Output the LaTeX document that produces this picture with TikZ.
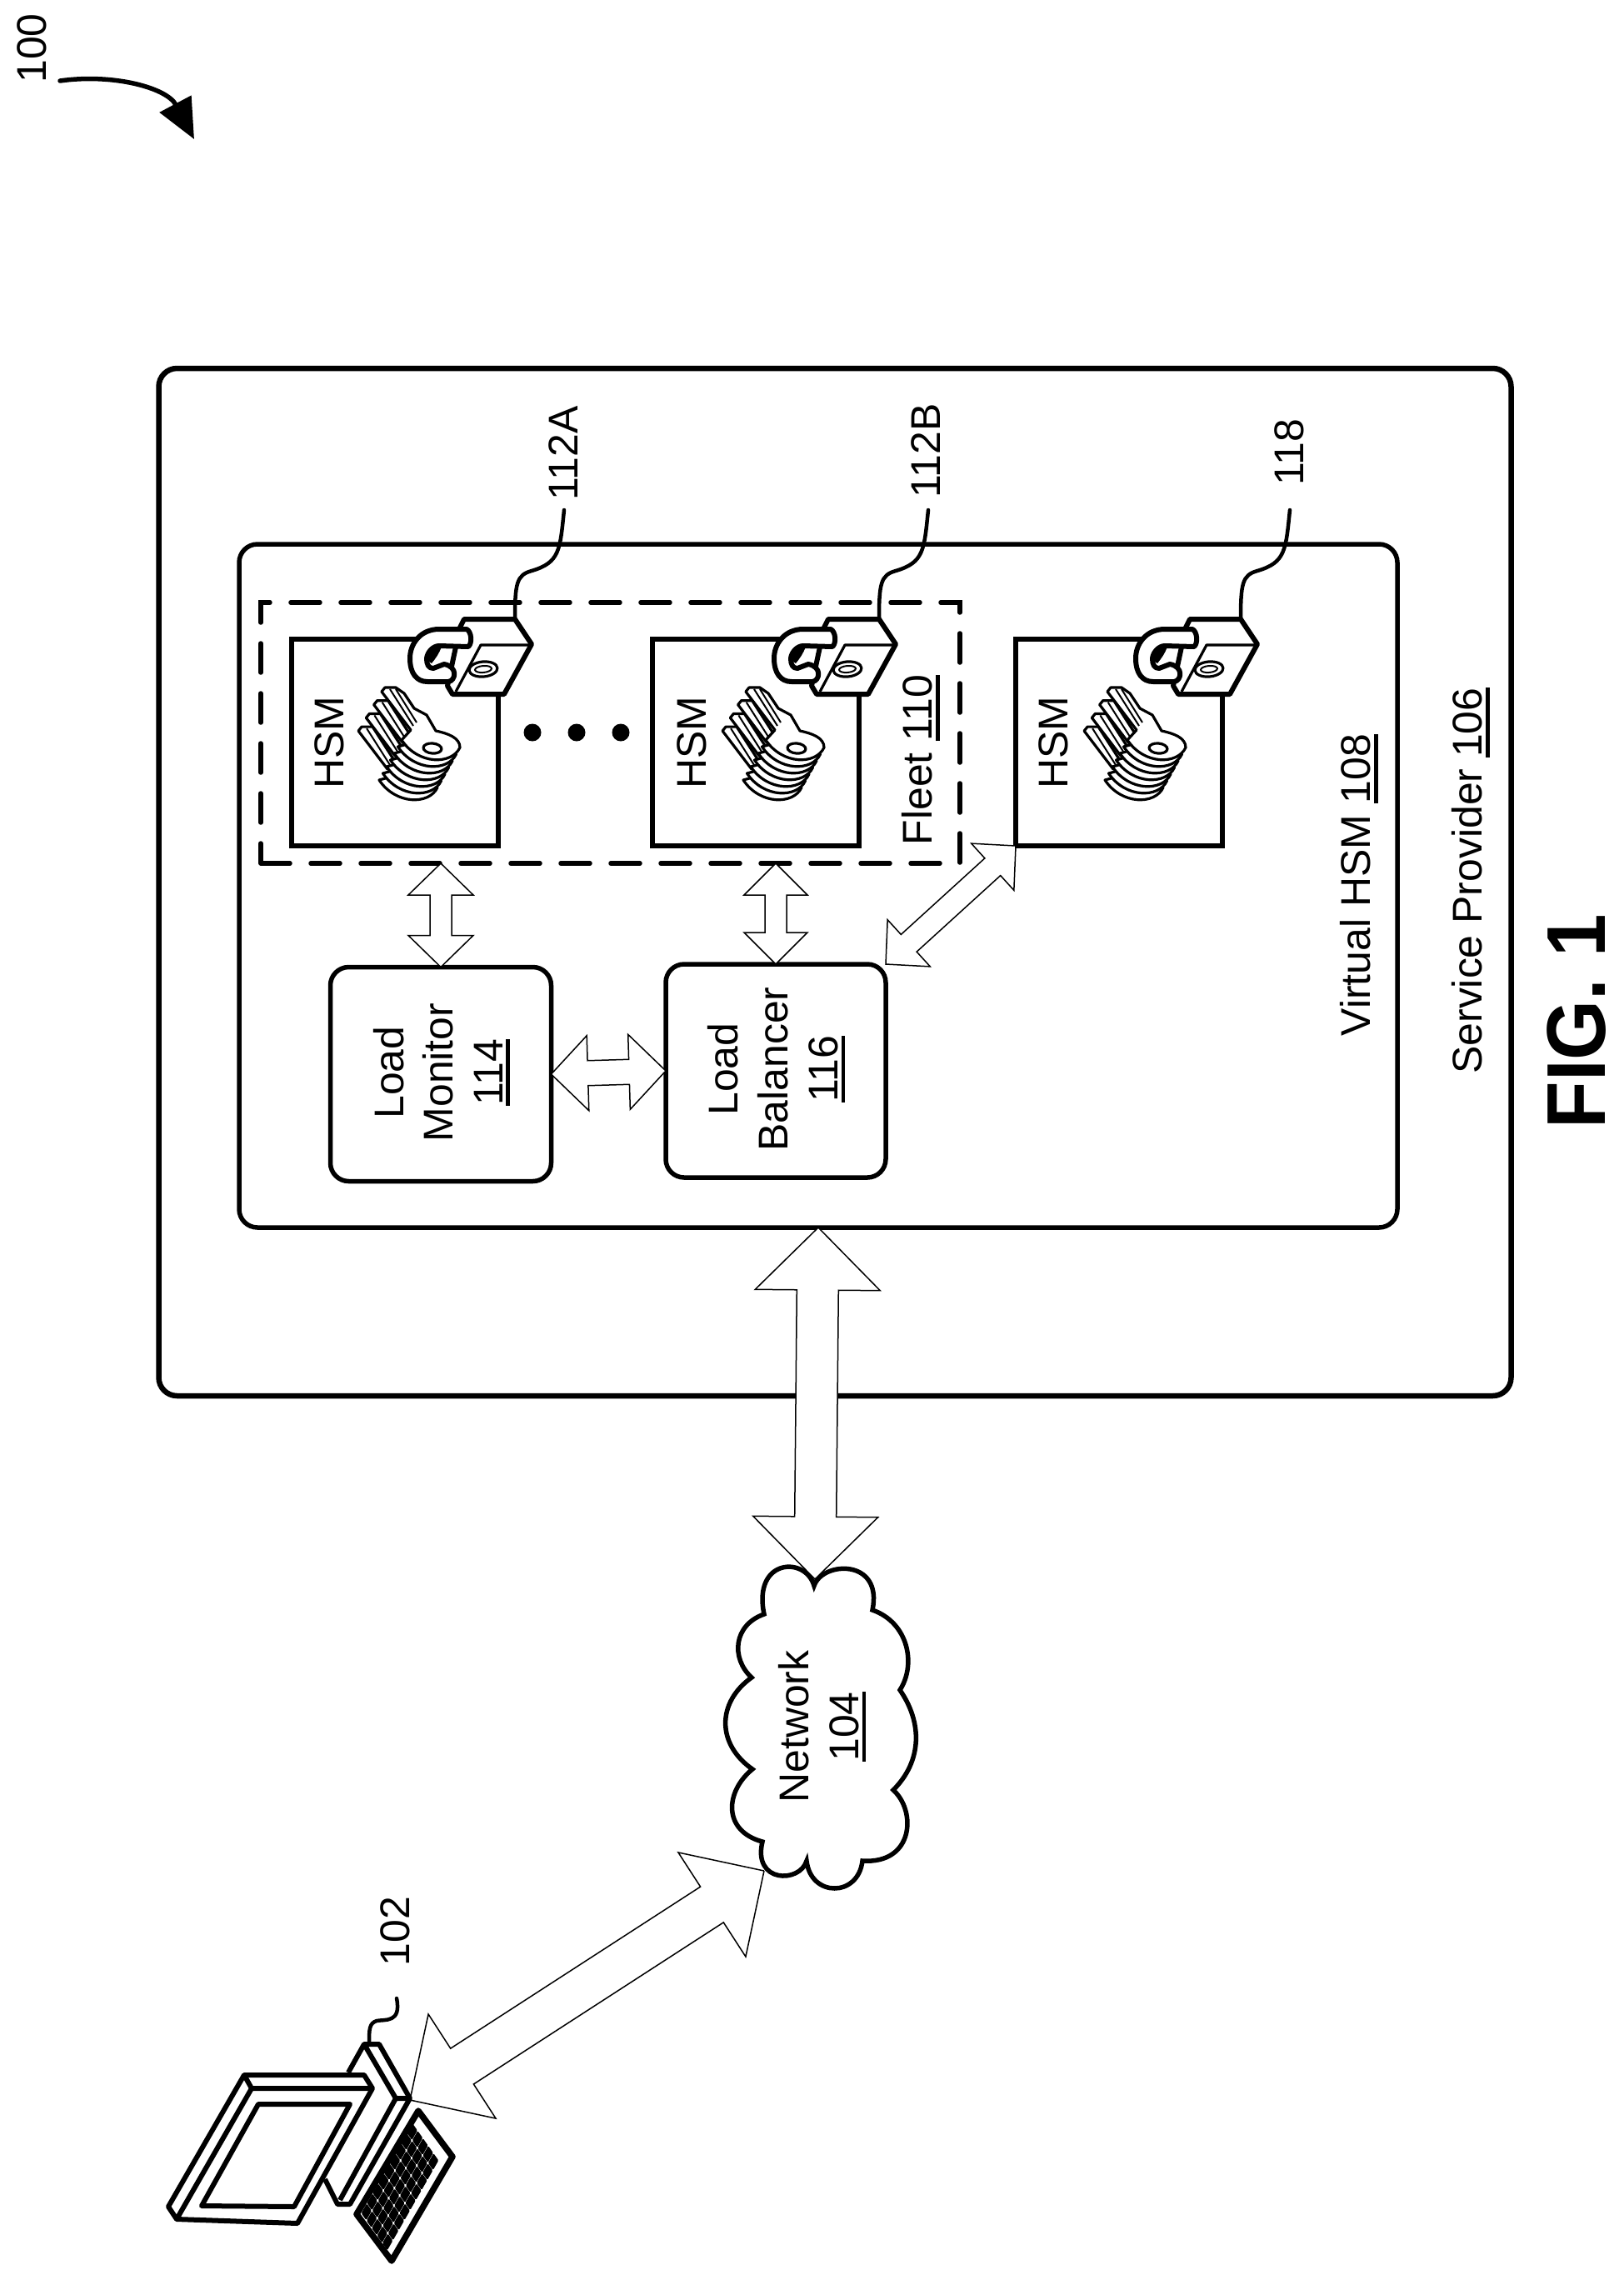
\documentclass[tikz,border=0pt]{standalone}
\usepackage{fontspec}
\setmainfont{Liberation Sans}
\usetikzlibrary{arrows.meta,calc}

\newcommand{\reftag}[1]{\leavevmode\vtop{\hbox{#1}\kern1.1pt\hrule height 1.3pt}}

\tikzset{
    hsmbox/.style={draw,line width=.055cm,inner sep=0,outer sep=0,minimum width=2.48cm,minimum height=2.48cm},
    roundbox/.style={draw,line width=.055cm,inner sep=0,outer sep=0,rounded corners=.22cm},
    fleetbox/.style={draw,line width=.055cm,line cap=round,dash pattern=on .35cm off .25cm,inner sep=0,outer sep=0},
    vtext/.style={rotate=90,align=center,inner sep=0,font=\fontsize{14.2}{17}\selectfont},
    leader/.style={line width=.045cm,line cap=round},
    thickline/.style={line width=.06cm,line join=round},
    thinline/.style={line width=.032cm,line join=round},
    dblarrow/.style n args={3}{draw,fill=white,line width=.015cm,to path={
        -- ($(\tikztostart)!#1!(\tikztotarget)!#2!90:(\tikztotarget)$)
        -- ($(\tikztostart)!#1!(\tikztotarget)!#3!90:(\tikztotarget)$)
        -- ($(\tikztotarget)!#1!(\tikztostart)!#3!-90:(\tikztostart)$)
        -- ($(\tikztotarget)!#1!(\tikztostart)!#2!-90:(\tikztostart)$)
        -- (\tikztotarget)
        -- ($(\tikztotarget)!#1!(\tikztostart)!#2!90:(\tikztostart)$)
        -- ($(\tikztotarget)!#1!(\tikztostart)!#3!90:(\tikztostart)$)
        -- ($(\tikztostart)!#1!(\tikztotarget)!#3!-90:(\tikztotarget)$)
        -- ($(\tikztostart)!#1!(\tikztotarget)!#2!-90:(\tikztotarget)$)
        -- (\tikztostart)}},
}

\begin{document}
\begin{tikzpicture}[y=-1cm,>=latex]

    \useasboundingbox (0,0) rectangle (19.49,27.36);

    % figure number
    \node[vtext] (ref100) at (.38,.58) {100};
    \coordinate (arrowstart) at (.72,.97);
    \coordinate (arrowend) at (2.33,1.67);
    \draw[line width=.055cm,line cap=round,-{Triangle[length=.48cm,width=.42cm]}] (arrowstart) .. controls (1.35,.88) and (2.00,1.05) .. (arrowend);

    % boxes
    \node[roundbox,line width=.065cm,minimum width=16.23cm,minimum height=12.33cm] (service) at (10.02,10.585) {};
    \node[roundbox,minimum width=13.90cm,minimum height=8.20cm] (vhsm) at (9.82,10.63) {};
    \node[fleetbox,minimum width=8.39cm,minimum height=3.13cm] (fleet) at (7.325,8.795) {};
    \node[hsmbox] (hsmA) at (4.74,8.91) {};
    \node[hsmbox] (hsmB) at (9.07,8.91) {};
    \node[hsmbox] (hsmC) at (13.43,8.91) {};
    \node[roundbox,minimum width=2.65cm,minimum height=2.57cm] (monitor) at (5.29,12.89) {};
    \node[roundbox,minimum width=2.64cm,minimum height=2.56cm] (balancer) at (9.31,12.85) {};

    % cloud
    \draw[fill=white,line width=.055cm,line join=miter]
        (9.77,19.03) .. controls (9.87,18.73) and (10.60,18.70) .. (10.47,19.32)
        .. controls (10.90,19.47) and (11.00,19.97) .. (10.80,20.28)
        .. controls (11.07,20.67) and (11.07,21.13) .. (10.72,21.48)
        .. controls (11.00,21.73) and (10.97,22.37) .. (10.35,22.33)
        .. controls (10.30,22.77) and (9.73,22.77) .. (9.68,22.33)
        .. controls (9.60,22.60) and (9.03,22.60) .. (9.15,22.10)
        .. controls (8.67,21.97) and (8.70,21.50) .. (9.03,21.23)
        .. controls (8.60,20.93) and (8.60,20.43) .. (9.02,20.13)
        .. controls (8.77,19.90) and (8.80,19.50) .. (9.17,19.37)
        .. controls (9.03,18.70) and (9.67,18.67) .. (9.77,19.03) -- cycle;
    \coordinate (cloudtop) at (9.78,18.95);
    \coordinate (cloudleft) at (9.17,22.45);
    \coordinate (computer) at (4.92,25.20);

    % arrows
    \coordinate (fleetmon) at (monitor.north |- fleet.south);
    \coordinate (fleetbal) at (balancer.north |- fleet.south);
    \draw[dblarrow={.38cm}{.39cm}{.13cm}] (fleetmon) to (monitor.north);
    \draw[dblarrow={.38cm}{.38cm}{.13cm}] (fleetbal) to (balancer.north);
    \draw[dblarrow={.44cm}{.45cm}{.15cm}] (monitor.east) to (balancer.west);
    \draw[dblarrow={.375cm}{.38cm}{.14cm}] (hsmC.south west) to (balancer.north east);
    \draw[dblarrow={.75cm}{.75cm}{.25cm}] (vhsm.south) to (cloudtop);
    \draw[dblarrow={.745cm}{.745cm}{.255cm}] (cloudleft) to (computer);

    % lock and keys
    \foreach \dx/\name in {0/A,4.37/B,8.71/C} {
        \begin{scope}[shift={(\dx,0)}]
            \coordinate (lead\name) at (6.77,6.12);
            \coordinate (lock\name) at (6.18,7.43);
            \draw[leader] (lead\name) .. controls (6.72,6.60) and (6.72,6.75) .. (6.38,6.85) .. controls (6.20,6.90) and (6.18,7.00) .. (lock\name);
            % lock
            \draw[thickline,fill=white] (5.52,7.53) -- (5.57,7.43) -- (6.18,7.43) -- (6.38,7.73) -- (6.05,8.33) -- (5.43,8.33) -- (5.37,8.23) -- cycle;
            \draw[thinline] (5.47,8.30) -- (5.77,7.74) -- (6.38,7.74);
            \draw[thinline] (5.80,8.03) ellipse [x radius=.17,y radius=.09,rotate=5];
            \draw[line width=.02cm] (5.80,8.03) ellipse [x radius=.10,y radius=.04,rotate=5];
            \draw[thickline,fill=white] (5.52,7.55) -- (5.27,7.55) .. controls (5.05,7.55) and (4.92,7.72) .. (4.92,7.90)
                .. controls (4.92,8.08) and (5.00,8.18) .. (5.13,8.18) -- (5.38,8.18)
                .. controls (5.47,8.17) and (5.50,8.00) .. (5.33,7.97) -- (5.20,8.02)
                .. controls (5.14,8.02) and (5.12,7.97) .. (5.12,7.90) .. controls (5.13,7.82) and (5.20,7.75) .. (5.27,7.75)
                -- (5.62,7.76) .. controls (5.67,7.72) and (5.66,7.58) .. (5.60,7.55) -- cycle;
            \fill (5.12,7.92) .. controls (5.13,7.82) and (5.20,7.76) .. (5.30,7.76) .. controls (5.27,7.84) and (5.23,7.90) .. (5.18,7.96) -- cycle;
            % lower keys, blades first
            \foreach \i in {3,2,1} {
                \begin{scope}[shift={({-.093*\i},{.157*\i})}]
                    \draw[thinline,fill=white] (4.58,8.30) -- (4.62,8.25) -- (4.75,8.25) -- (5.04,8.70) -- (4.93,8.76) -- cycle;
                    \draw[line width=.02cm] (4.68,8.27) -- (4.96,8.71);
                \end{scope}
            }
            \foreach \i in {6,5,4,3,2,1} {
                \begin{scope}[shift={({-.045*\i},{.08*\i})}]
                    \draw[thinline,fill=white] (5.52,8.97) .. controls (5.42,9.18) and (5.02,9.18) .. (4.82,8.88) -- (5.23,8.77) -- cycle;
                \end{scope}
            }
            % top key
            \draw[thinline,fill=white] (4.58,8.30) -- (4.62,8.25) -- (4.75,8.25) -- (4.85,8.32) -- (4.97,8.50) -- (5.12,8.58) -- (5.23,8.77)
                .. controls (5.37,8.80) and (5.52,8.85) .. (5.52,8.97) .. controls (5.42,9.18) and (5.02,9.18) .. (4.82,8.88) -- (4.93,8.76) -- cycle;
            \draw[line width=.02cm] (4.68,8.27) -- (4.96,8.71);
            \draw[line width=.02cm] (4.75,8.27) -- (5.00,8.67);
            \draw[thinline] (5.19,8.98) ellipse [x radius=.11,y radius=.06,rotate=-5];
        \end{scope}
    }

    % dots
    \foreach \x in {6.39,6.92,7.45} {
        \fill (\x,8.79) circle (.105);
    }

    % computer
    \draw[thickline] (4.37,24.53) -- (4.18,24.87);
    \draw[thickline] (3.90,26.15) -- (4.05,26.45) -- (4.20,26.45) -- (4.92,25.18) -- (4.55,24.53) -- (4.37,24.53) -- (4.75,25.18) -- (4.92,25.18);
    \draw[thickline] (4.75,25.18) -- (4.08,26.40);
    \draw[thickline] (2.93,24.90) -- (4.37,24.90) -- (4.47,25.06) -- (3.57,26.68) -- (2.12,26.63) -- (2.02,26.48) -- cycle;
    \draw[thickline] (2.93,24.90) -- (3.02,25.06) -- (4.47,25.06);
    \draw[thickline] (3.02,25.06) -- (2.12,26.63);
    \draw[thickline] (3.10,25.25) -- (4.20,25.25) -- (3.53,26.48) -- (2.42,26.47) -- cycle;
    \draw[line width=.075cm,line join=round] (5.02,25.33) -- (5.43,25.88) -- (4.70,27.13) -- (4.28,26.57) -- cycle;
    \foreach \i in {0,...,8} {
        \foreach \j in {0,...,4} {
            \fill[rounded corners=.4pt] ({4.95-.0686*\i+.0633*\j},{25.48+.1203*\i+.09*\j}) -- ++(-.066,.115) -- ++(.06,.085) -- ++(.066,-.115) -- cycle;
        }
    }
    \coordinate (lead102) at (4.76,23.98);
    \coordinate (top102) at (4.43,24.53);
    \draw[leader] (lead102) .. controls (4.82,24.28) and (4.62,24.23) .. (4.52,24.25) .. controls (4.43,24.28) and (4.43,24.35) .. (top102);

    % labels
    \node[vtext] (textA) at (3.95,8.91) {HSM};
    \node[vtext] (textB) at (8.30,8.91) {HSM};
    \node[vtext] (textC) at (12.64,8.91) {HSM};
    \node[vtext] (tag112A) at (6.76,5.44) {112A};
    \node[vtext] (tag112B) at (11.11,5.41) {112B};
    \node[vtext] (tag118) at (15.47,5.43) {118};
    \node[vtext] (tag102) at (4.745,23.175) {102};
    \node[vtext] (textfleet) at (11.05,9.12) {Fleet \reftag{110}};
    \node[vtext] (textvhsm) at (16.31,10.62) {Virtual HSM \reftag{108}};
    \node[vtext] (textservice) at (17.65,10.57) {Service Provider \reftag{106}};
    \node[vtext] (textmonitor) at (5.30,12.87) {Load\\Monitor\\\reftag{114}};
    \node[vtext] (textbalancer) at (9.32,12.83) {Load\\Balancer\\\reftag{116}};
    \node[vtext] (textnetwork) at (9.87,20.72) {Network\\\reftag{104}};
    \node[vtext,xscale=.925,font=\fontsize{28.45}{34}\selectfont\bfseries] (figlabel) at (18.92,12.26) {FIG. 1};

\end{tikzpicture}
\end{document}
